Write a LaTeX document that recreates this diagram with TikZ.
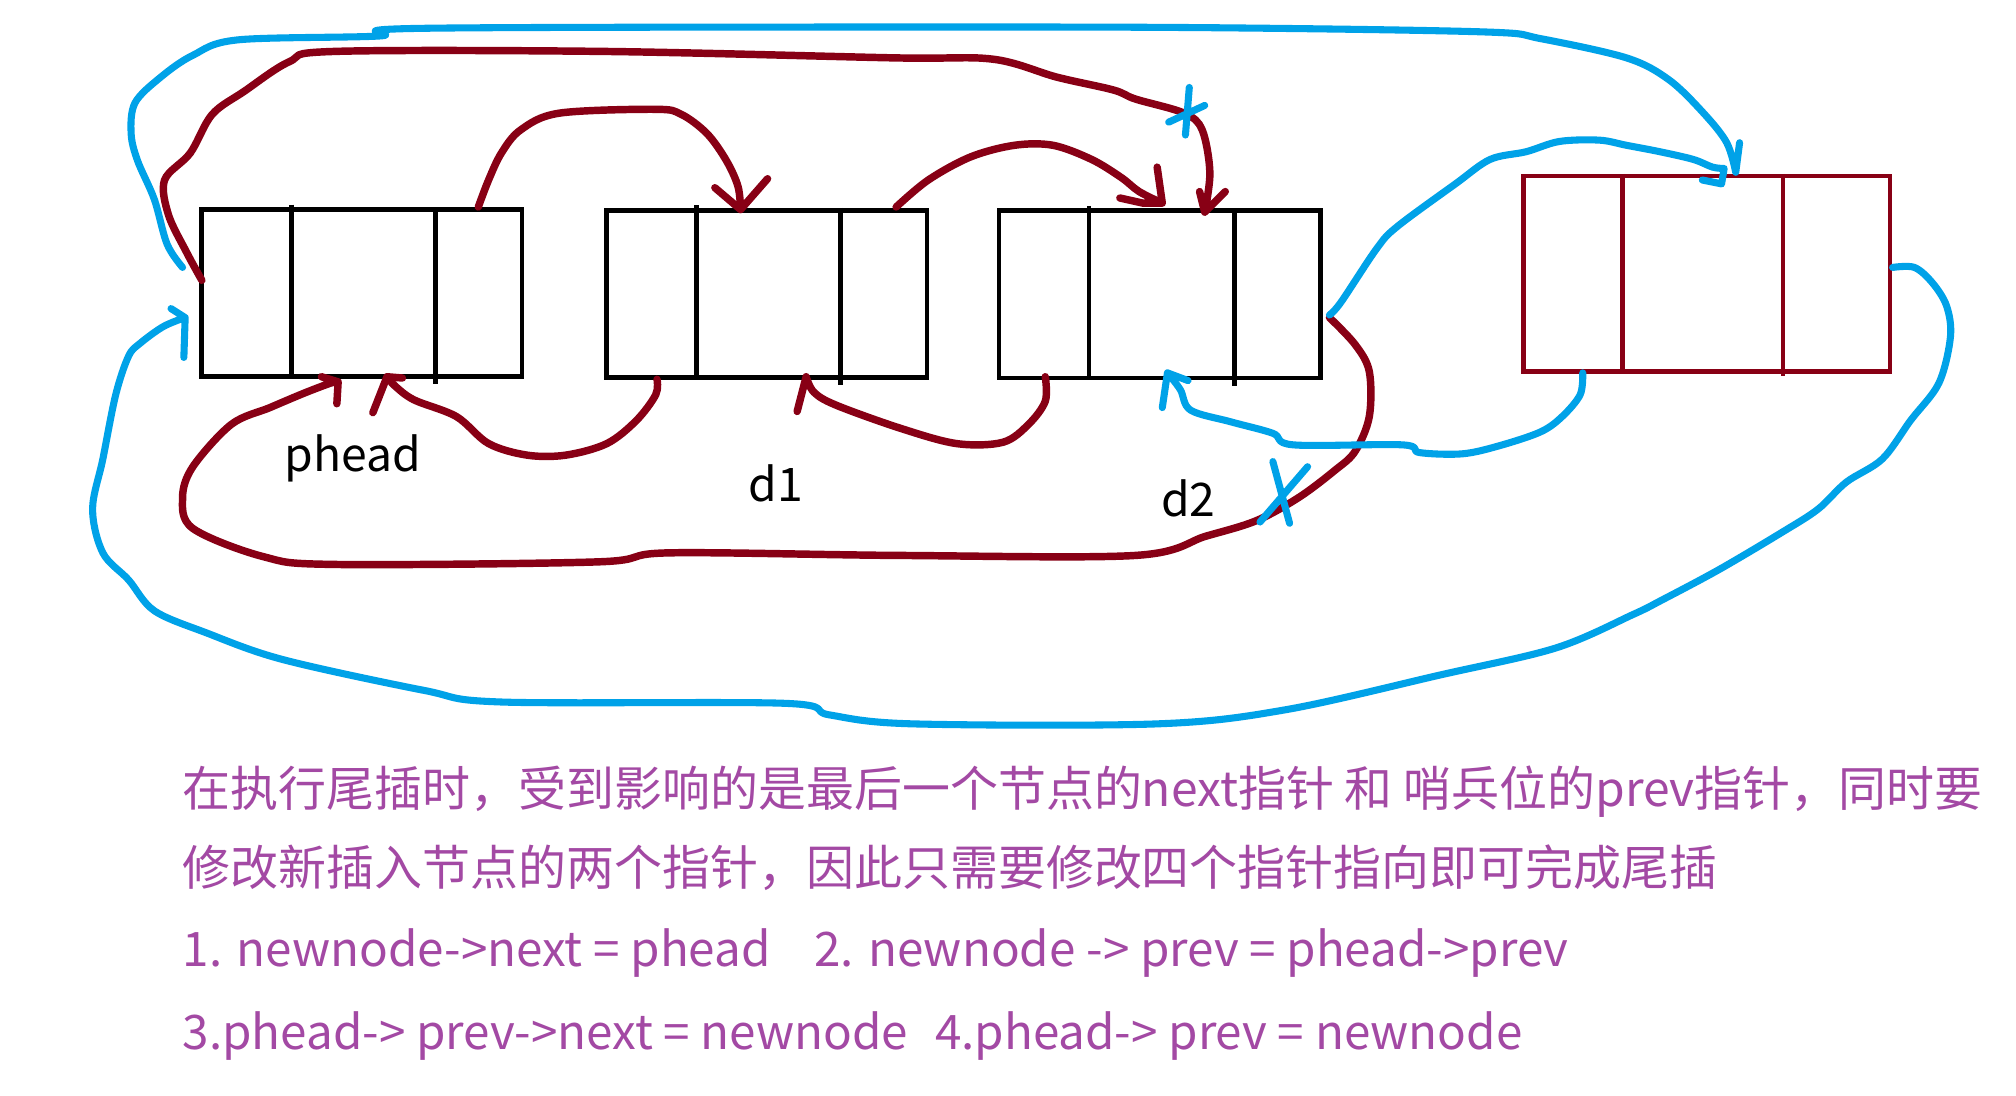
\documentclass[tikz,border=0pt]{standalone}
\usepackage{fontspec}
\newfontfamily\cjk{Noto Sans CJK SC}
\definecolor{dred}{RGB}{136,0,21}
\definecolor{tblue}{RGB}{0,162,232}
\definecolor{purp}{RGB}{163,73,164}
\tikzset{
  redpen/.style={draw=dred, line width=5.8pt, line cap=round, line join=round},
  bluepen/.style={draw=tblue, line width=5.5pt, line cap=round, line join=round},
  cellbox/.style={draw=black, line width=3.8pt, inner sep=0pt, minimum width=249pt, minimum height=130pt},
  newbox/.style={draw=dred, line width=3.4pt, inner sep=0pt, minimum width=285pt, minimum height=152pt},
  cellline/.style={draw=black, line width=3.8pt},
  newline/.style={draw=dred, line width=3.4pt},
  lbl/.style={anchor=base west, inner sep=0pt, font=\cjk\fontsize{36}{40}\selectfont, text=black},
  note/.style={anchor=base west, inner sep=0pt, font=\cjk\fontsize{37.3}{44}\selectfont, text=purp},
  latinnote/.style={note, font=\cjk\fontsize{37}{44}\selectfont},
  smoothpath/.style={smooth, tension=0.55}
}
\begin{document}
\begin{tikzpicture}[x=1pt,y=-1pt]
\fill[white] (0,0) rectangle (1568,852);
\useasboundingbox (0,0) rectangle (1568,852);

% boxes
\node[cellbox] (A) at (281.5,228) {};
\node[cellbox] (B) at (596.5,228.5) {};
\node[cellbox, minimum width=250pt] (C) at (902,229) {};
\node[newbox] (D) at (1327.5,213) {};
\draw[cellline] (A.north -| 227,0) ++(0,-2) -- (A.south -| 227,0);
\draw[cellline] (A.north -| 339,0) -- ([yshift=-4pt]A.south -| 339,0);
\draw[cellline] (B.north -| 542,0) ++(0,-2) -- (B.south -| 542,0);
\draw[cellline] (B.north -| 654,0) -- ([yshift=-4pt]B.south -| 654,0);
\draw[cellline] (C.north -| 847,0) ++(0,-2) -- (C.south -| 847,0);
\draw[cellline] (C.north -| 960,0) -- ([yshift=-4pt]C.south -| 960,0);
\draw[newline] (D.north -| 1262,0) -- (D.south -| 1262,0);
\draw[newline] (D.north -| 1387,0) -- ([yshift=-2pt]D.south -| 1387,0);

% labels
\node[lbl] (lp) at (221,367) {phead};
\node[lbl] (l1) at (582,390) {d1};
\node[lbl] (l2) at (903,402) {d2};

% red 1: phead prev (top) -> d2
\draw[redpen] plot[smoothpath] coordinates {(157,218) (145,196) (131,167) (128,140) (148,119) (165,89) (190,71) (225,48) (260,40) (470,40) (695,45) (772,46) (822,60) (866,70) (883,77) (921,88) (935,101) (941,134) (937,165)} -- (953,149) (933,149) -- (937,165);
% red 2: phead -> d1
\draw[redpen] plot[smoothpath] coordinates {(372,161) (380,140) (390,119) (405,101) (435,88) (510,85) (530,89) (550,104) (565,125) (574,145) (576,163)} -- (597,139) (556,146) -- (576,163);
% red 3: d1 -> d2
\draw[redpen] plot[smoothpath] coordinates {(697,161) (722,140) (755,122) (789,113) (819,113) (849,124) (872,138) (886,149) (904,158)} -- (900,130) (871,154) -- (889,158) -- (904,158);
% red 4: d1 -> phead
\draw[redpen] plot[smoothpath] coordinates {(511,295) (510,307) (495,327) (472,345) (440,354) (410,354) (380,345) (355,324) (322,311) (307,300) (301,293)} -- (290,321) (301,293) -- (313,294);
% red 5: d2 -> d1
\draw[redpen] plot[smoothpath] coordinates {(813,293) (813,312) (800,330) (780,344) (744,345) (700,333) (650,315) (633,305) (627,293)} -- (620,320);
% red 6: d2 next (bottom) -> phead
\draw[redpen] plot[smoothpath] coordinates {(1034,247) (1054,268) (1065,289) (1065,324) (1054,351) (1038,366) (1010,387) (977,405) (938,417) (883,432) (700,432) (520,430) (465,437) (260,439) (205,433) (150,411) (142,387) (150,363) (180,330) (210,317) (236,306) (257,298) (263,297)} -- (262,314) (250,293) -- (263,297);

% blue 1: phead -> newnode (top)
\draw[bluepen] plot[smoothpath] coordinates {(142,208) (130,190) (120,155) (107,125) (102,104) (105,80) (125,60) (150,43) (185,31) (295,28) (330,22) (784,21) (988,22) (1159,25) (1198,30) (1265,45) (1298,62) (1325,88) (1343,111) (1350,134)} -- (1353,111);
% blue 2: d2 -> newnode
\draw[bluepen] plot[smoothpath] coordinates {(1034,245) (1043,235) (1071,193) (1087,176) (1132,143) (1159,124) (1187,118) (1213,110) (1244,109) (1265,113) (1291,118) (1317,124) (1332,130) (1341,131)} -- (1339,143) -- (1324,140);
% blue 3: newnode -> phead (bottom loop)
\draw[bluepen] plot[smoothpath] coordinates {(1472,208) (1489,208) (1503,220) (1514,238) (1517,262) (1508,298) (1486,327) (1464,357) (1436,375) (1414,396) (1386,414) (1337,443) (1292,467) (1270,478) (1210,504) (1120,525) (1000,552) (900,563) (710,563) (645,556) (610,547) (390,546) (330,537) (220,513) (160,492) (120,475) (100,451) (80,430) (72,396) (80,357) (90,307) (100,277) (109,267) (127,254) (144,247)} -- (133,240) (144,247) -- (143,278);
% blue 4: newnode -> d2
\draw[bluepen] plot[smoothpath] coordinates {(1231,290) (1229,307) (1215,324) (1198,336) (1165,347) (1137,353) (1104,352) (1091,346) (1006,346) (990,337) (957,328) (926,319) (918,303) (908,290)} -- (904,317) (908,290) -- (924,296);
% crosses
\draw[bluepen] (925,68) -- (922,105) (909,95) -- (937,82);
\draw[bluepen] (990,359) -- (1003,407) (1017,363) -- (980,406);

% text
\node[note] (t1) at (142,627) {在执行尾插时，受到影响的是最后一个节点的next指针 和 哨兵位的prev指针，同时要};
\node[note] (t2) at (142,689) {修改新插入节点的两个指针，因此只需要修改四个指针指向即可完成尾插};
\node[latinnote] (t3) at (142,752) {1. newnode->next = phead\hspace{34pt}2. newnode -> prev = phead->prev};
\node[latinnote] (t4) at (142,816) {3.phead-> prev->next = newnode\hspace{21pt}4.phead-> prev = newnode};
\end{tikzpicture}
\end{document}
